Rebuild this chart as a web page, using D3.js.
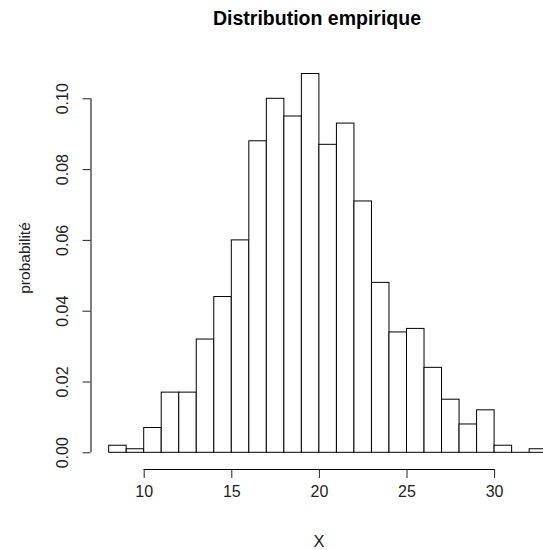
<!DOCTYPE html>
<html>
<head>
<meta charset="utf-8">
<script src="https://cdn.jsdelivr.net/npm/d3@7"></script>
<style>
  body { margin: 0; background: #fff; }
  svg { display: block; font-family: "Liberation Sans", Arial, sans-serif; }
</style>
</head>
<body>
<div id="chart"></div>
<script>
// bornes des classes (largeur 1) et probabilités
const breaks = d3.range(8, 34);
const probs = [0.002, 0.001, 0.007, 0.017, 0.017, 0.032, 0.044, 0.060, 0.088, 0.100,
               0.095, 0.107, 0.087, 0.093, 0.071, 0.048, 0.034, 0.035, 0.024, 0.015,
               0.008, 0.012, 0.002, 0.000, 0.001];
const xTicks = [10, 15, 20, 25, 30];
const yTicks = [0, 0.02, 0.04, 0.06, 0.08, 0.10];

const width = 543, height = 550;
const svg = d3.select('#chart').append('svg')
    .attr('width', width)
    .attr('height', height);

// échelles calées sur la zone de tracé
const x = d3.scaleLinear().domain([10, 30]).range([143.7, 494.1]);
const y = d3.scaleLinear().domain([0, 0.1]).range([452.3, 98.3]);

const bins = probs.map((p, i) => ({ x0: breaks[i], x1: breaks[i + 1], p: p }));

// barres
svg.append('g').selectAll('rect')
    .data(bins.filter(d => d.p > 0))
    .enter()
    .append('rect')
    .attr('x', d => x(d.x0))
    .attr('y', d => y(d.p))
    .attr('width', d => x(d.x1) - x(d.x0))
    .attr('height', d => y(0) - y(d.p))
    .attr('fill', '#fff')
    .attr('stroke', '#000')
    .attr('stroke-width', 1);

// classes vides : seul le bord inférieur reste, comme dans R
svg.append('g').selectAll('line')
    .data(bins.filter(d => d.p === 0))
    .enter()
    .append('line')
    .attr('x1', d => x(d.x0))
    .attr('x2', d => x(d.x1))
    .attr('y1', y(0))
    .attr('y2', y(0))
    .attr('stroke', '#000')
    .attr('stroke-width', 1);

// axe X (style R)
const xAxis = svg.append('g')
    .attr('transform', 'translate(0,' + 469 + ')')
    .call(d3.axisBottom(x).tickValues(xTicks).tickSize(9).tickPadding(8).tickSizeOuter(0));
xAxis.select('.domain').attr('d', 'M' + x(10) + ',0.5H' + x(30));
xAxis.selectAll('line').attr('stroke', '#222');
xAxis.selectAll('text').attr('font-size', 16).attr('fill', '#222')
    .attr('font-family', '"Liberation Sans", Arial, sans-serif');

// axe Y
const yAxis = svg.append('g')
    .attr('transform', 'translate(' + 90.5 + ',0)')
    .call(d3.axisLeft(y).tickValues(yTicks).tickFormat(d3.format('.2f')).tickSize(8).tickSizeOuter(0));
yAxis.select('.domain').attr('d', 'M0.5,' + y(0) + 'V' + y(0.1));
yAxis.selectAll('line').attr('stroke', '#222');
yAxis.selectAll('text')
    .attr('font-size', 16).attr('fill', '#222')
    .attr('font-family', '"Liberation Sans", Arial, sans-serif')
    .attr('x', null).attr('dy', null)
    .attr('text-anchor', 'middle')
    .attr('transform', 'translate(-28,0) rotate(-90)')
    .attr('dominant-baseline', 'central');

// titre et libellés
svg.append('text')
    .attr('x', 317).attr('y', 25)
    .attr('text-anchor', 'middle')
    .attr('font-size', 19.5).attr('font-weight', 'bold')
    .attr('fill', '#000')
    .text('Distribution empirique');

svg.append('text')
    .attr('x', 319).attr('y', 547)
    .attr('text-anchor', 'middle')
    .attr('font-size', 16.5).attr('fill', '#222')
    .text('X');

svg.append('text')
    .attr('transform', 'translate(24,258) rotate(-90)')
    .attr('text-anchor', 'middle')
    .attr('dominant-baseline', 'central')
    .attr('font-size', 15.5).attr('fill', '#222')
    .text('probabilité');
</script>
</body>
</html>
